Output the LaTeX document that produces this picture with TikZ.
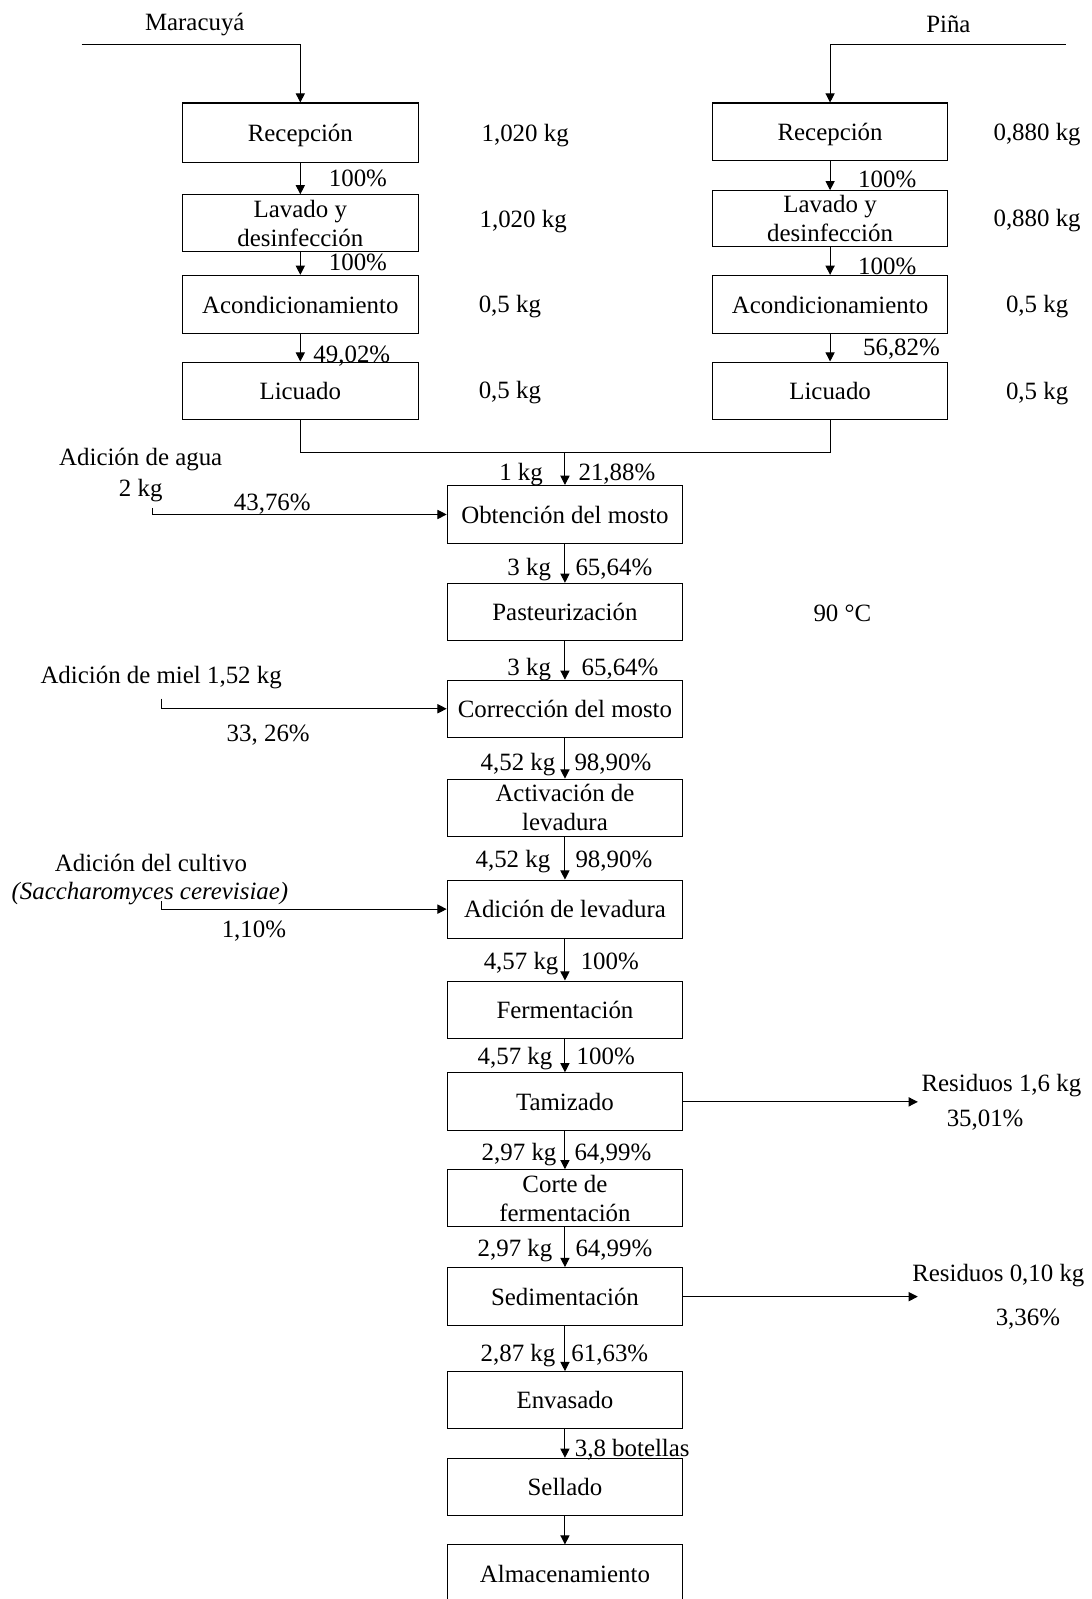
\documentclass[tikz,border=0pt]{standalone}
\usepackage{fontspec}
\setmainfont{Liberation Serif}
\usetikzlibrary{arrows.meta}
\newcommand\fs{\fontsize{24.4}{28.5}\selectfont}
\begin{document}
\begin{tikzpicture}[x=1pt,y=1pt,
  box/.style={draw, line width=1pt, minimum width=231pt, minimum height=57pt, align=center, inner sep=0pt, font=\fs},
  onebox/.style={box, text height=20pt, text depth=3pt},
  lbl/.style={inner sep=0pt, font=\fs, text height=20pt, text depth=3pt},
  arr/.style={line width=1pt, -{Triangle[length=9pt,width=9pt]}},
  ln/.style={line width=1pt}]
\useasboundingbox (0,0) rectangle (1070,-1568);
\clip (0,0) rectangle (1070,-1568);
% left column
\node[onebox, minimum height=58pt] (L1) at (294.5,-130) {Recepción};
\node[box, minimum height=56pt] (L2) at (294.5,-219) {Lavado y\\desinfección};
\node[onebox] (L3) at (294.5,-298.5) {Acondicionamiento};
\node[onebox, minimum height=56pt] (L4) at (294.5,-383) {Licuado};
% right column
\node[onebox, minimum height=56pt] (R1) at (814,-129) {Recepción};
\node[box, minimum height=55pt] (R2) at (814,-214.5) {Lavado y\\desinfección};
\node[onebox] (R3) at (814,-298.5) {Acondicionamiento};
\node[onebox, minimum height=56pt] (R4) at (814,-383) {Licuado};
% center column
\node[onebox] (C1) at (554,-504.5) {Obtención del mosto};
\node[onebox, minimum height=56pt] (C2) at (554,-600) {Pasteurización};
\node[onebox, minimum height=56pt] (C3) at (554,-695) {Corrección del mosto};
\node[box, minimum height=56pt] (C4) at (554,-792) {Activación de\\levadura};
\node[onebox] (C5) at (554,-891.5) {Adición de levadura};
\node[onebox, minimum height=56pt] (C6) at (554,-990) {Fermentación};
\node[onebox] (C7) at (554,-1080.5) {Tamizado};
\node[box, minimum height=56pt] (C8) at (554,-1175) {Corte de\\fermentación};
\node[onebox] (C9) at (554,-1271.5) {Sedimentación};
\node[onebox, minimum height=56pt] (C10) at (554,-1373) {Envasado};
\node[onebox, minimum height=56pt] (C11) at (554,-1458) {Sellado};
\node[onebox] (C12) at (554,-1543.5) {Almacenamiento};
% inputs on top
\node[lbl] (tm) at (191,-21) {Maracuyá};
\node[lbl] (tp) at (930,-23) {Piña};
\coordinate (ms) at (80,-44);
\coordinate (ps) at (1045,-44);
\draw[arr] (ms) -| (L1.north);
\draw[arr] (ps) -| (R1.north);
% left column arrows
\draw[arr] (L1.south) -- (L2.north);
\draw[arr] (L2.south) -- (L3.north);
\draw[arr] (L3.south) -- (L4.north);
\node[lbl] (la1) at (351,-174) {100\%};
\node[lbl] (la2) at (351,-257) {100\%};
\node[lbl] (la3) at (345,-347) {49,02\%};
\node[lbl] (lv1) at (515,-130) {1,020 kg};
\node[lbl] (lv2) at (513,-215) {1,020 kg};
\node[lbl] (lv3) at (500,-298) {0,5 kg};
\node[lbl] (lv4) at (500,-382) {0,5 kg};
% right column arrows
\draw[arr] (R1.south) -- (R2.north);
\draw[arr] (R2.south) -- (R3.north);
\draw[arr] (R3.south) -- (R4.north);
\node[lbl] (ra1) at (870,-175) {100\%};
\node[lbl] (ra2) at (870,-261) {100\%};
\node[lbl] (ra3) at (884,-340) {56,82\%};
\node[lbl] (rv1) at (1017,-129) {0,880 kg};
\node[lbl] (rv2) at (1017,-214) {0,880 kg};
\node[lbl] (rv3) at (1017,-298) {0,5 kg};
\node[lbl] (rv4) at (1017,-383) {0,5 kg};
% merge
\coordinate (mj) at (554,-444);
\draw[ln] (L4.south) |- (mj) -| (R4.south);
\draw[arr] (mj) -- (C1.north);
\node[lbl] (k0) at (511,-463) {1 kg};
\node[lbl] (p0) at (605,-463) {21,88\%};
% center arrows
\draw[arr] (C1.south) -- (C2.north);
\node[lbl] (k1) at (519,-556) {3 kg};
\node[lbl] (p1) at (602,-556) {65,64\%};
\draw[arr] (C2.south) -- (C3.north);
\node[lbl] (k2) at (519,-654) {3 kg};
\node[lbl] (p2) at (608,-654) {65,64\%};
\draw[arr] (C3.south) -- (C4.north);
\node[lbl] (k3) at (508,-747) {4,52 kg};
\node[lbl] (p3) at (601,-747) {98,90\%};
\draw[arr] (C4.south) -- (C5.north);
\node[lbl] (k4) at (503,-842) {4,52 kg};
\node[lbl] (p4) at (602,-842) {98,90\%};
\draw[arr] (C5.south) -- (C6.north);
\node[lbl] (k5) at (511,-942) {4,57 kg};
\node[lbl] (p5) at (598,-942) {100\%};
\draw[arr] (C6.south) -- (C7.north);
\node[lbl] (k6) at (505,-1035) {4,57 kg};
\node[lbl] (p6) at (594,-1035) {100\%};
\draw[arr] (C7.south) -- (C8.north);
\node[lbl] (k7) at (509,-1129) {2,97 kg};
\node[lbl] (p7) at (601,-1129) {64,99\%};
\draw[arr] (C8.south) -- (C9.north);
\node[lbl] (k8) at (505,-1224) {2,97 kg};
\node[lbl] (p8) at (602,-1224) {64,99\%};
\draw[arr] (C9.south) -- (C10.north);
\node[lbl] (k9) at (508,-1327) {2,87 kg};
\node[lbl] (p9) at (598,-1327) {61,63\%};
\draw[arr] (C10.south) -- (C11.north);
\node[lbl] (bt) at (620,-1420) {3,8 botellas};
\draw[arr] (C11.south) -- (C12.north);
% side inputs
\node[lbl] (wa1) at (138,-448) {Adición de agua};
\node[lbl] (wa2) at (138,-478) {2 kg};
\node[lbl] (wa3) at (267,-492) {43,76\%};
\coordinate (wa) at (150,-498);
\draw[arr] (wa) |- (C1.west);
\node[lbl] (tc) at (826,-601) {90 °C};
\node[lbl] (mi1) at (158,-662) {Adición de miel 1,52 kg};
\node[lbl] (mi2) at (263,-719) {33, 26\%};
\coordinate (mi) at (158,-685);
\draw[arr] (mi) |- (C3.west);
\node[lbl] (cu1) at (148,-846) {Adición del cultivo};
\node[lbl] (cu2) at (147,-874) {\itshape(Saccharomyces cerevisiae)};
\node[lbl] (cu3) at (249,-911) {1,10\%};
\coordinate (cu) at (158,-884);
\draw[arr] (cu) |- (C5.west);
% residues
\coordinate (r1) at (900,-1080.5);
\draw[arr] (C7.east) -- (r1);
\node[lbl] (re1) at (982,-1062) {Residuos 1,6 kg};
\node[lbl] (re2) at (966,-1096) {35,01\%};
\coordinate (r2) at (900,-1271.5);
\draw[arr] (C9.east) -- (r2);
\node[lbl] (re3) at (979,-1248) {Residuos 0,10 kg};
\node[lbl] (re4) at (1008,-1291) {3,36\%};
\end{tikzpicture}
\end{document}
